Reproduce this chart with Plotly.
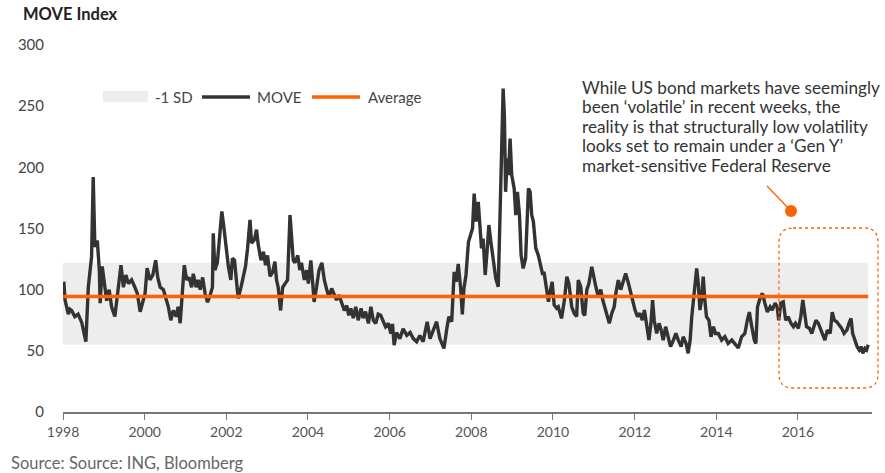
import plotly.graph_objects as go

# ---------------- data ----------------
YEARS = [
    1998.02, 1998.05, 1998.13, 1998.17, 1998.21, 1998.29, 1998.37, 1998.46, 1998.56, 1998.62,
    1998.70, 1998.74, 1998.78, 1998.84, 1998.89, 1998.91, 1998.96, 1999.01, 1999.07, 1999.13,
    1999.19, 1999.27, 1999.35, 1999.42, 1999.48, 1999.54, 1999.60, 1999.68, 1999.76, 1999.82,
    1999.89, 1999.95, 2000.01, 2000.06, 2000.13, 2000.20, 2000.27, 2000.32, 2000.38, 2000.46,
    2000.52, 2000.58, 2000.64, 2000.70, 2000.77, 2000.82, 2000.87, 2000.93, 2000.97, 2001.03,
    2001.09, 2001.15, 2001.19, 2001.26, 2001.31, 2001.36, 2001.42, 2001.48, 2001.54, 2001.60,
    2001.66, 2001.68, 2001.72, 2001.78, 2001.83, 2001.89, 2001.94, 2001.99,
    2002.05, 2002.11, 2002.15, 2002.20, 2002.25, 2002.29, 2002.36, 2002.42, 2002.47, 2002.52,
    2002.58, 2002.62, 2002.69, 2002.74, 2002.78, 2002.85, 2002.91, 2002.96, 2003.01, 2003.07,
    2003.13, 2003.19, 2003.23, 2003.27, 2003.33, 2003.38, 2003.44, 2003.50, 2003.56, 2003.60,
    2003.64, 2003.68, 2003.75, 2003.80, 2003.84, 2003.91, 2003.97, 2004.01, 2004.07, 2004.11,
    2004.15, 2004.21, 2004.27, 2004.34, 2004.40, 2004.46, 2004.51, 2004.58, 2004.64, 2004.70,
    2004.76, 2004.83, 2004.89, 2004.95, 2005.00, 2005.05, 2005.11, 2005.17, 2005.23, 2005.30,
    2005.35, 2005.41, 2005.48, 2005.54, 2005.60, 2005.66, 2005.72, 2005.78, 2005.84, 2005.90,
    2005.97, 2006.03, 2006.07, 2006.11,
    2006.17, 2006.25, 2006.33, 2006.42, 2006.50, 2006.58, 2006.66, 2006.74, 2006.82, 2006.92,
    2006.99, 2007.07, 2007.15, 2007.23, 2007.33, 2007.40, 2007.45, 2007.52, 2007.58, 2007.63,
    2007.68, 2007.74, 2007.78, 2007.82, 2007.87, 2007.93, 2007.99, 2008.03, 2008.07, 2008.12,
    2008.17, 2008.21, 2008.25, 2008.29, 2008.34, 2008.38, 2008.43, 2008.48, 2008.54, 2008.60,
    2008.66, 2008.70, 2008.74, 2008.78, 2008.81, 2008.84, 2008.88, 2008.91, 2008.95, 2008.99,
    2009.05, 2009.09, 2009.13, 2009.18, 2009.22, 2009.27, 2009.33, 2009.40, 2009.44, 2009.48,
    2009.52, 2009.58, 2009.64, 2009.70, 2009.75, 2009.78, 2009.83, 2009.89, 2009.93, 2009.98,
    2010.03, 2010.09,
    2010.13, 2010.21, 2010.28, 2010.34, 2010.39, 2010.46, 2010.52, 2010.58, 2010.62, 2010.68,
    2010.74, 2010.78, 2010.83, 2010.88, 2010.95, 2011.01, 2011.05, 2011.11, 2011.17, 2011.22,
    2011.27, 2011.33, 2011.38, 2011.44, 2011.50, 2011.54, 2011.60, 2011.66, 2011.72, 2011.78,
    2011.85, 2011.90, 2011.95, 2012.01, 2012.07, 2012.13, 2012.19, 2012.24, 2012.30, 2012.35,
    2012.40, 2012.44, 2012.48, 2012.54, 2012.60, 2012.65, 2012.70, 2012.76, 2012.82, 2012.88,
    2012.95, 2013.01, 2013.07, 2013.14, 2013.19, 2013.26, 2013.31, 2013.36, 2013.40, 2013.44,
    2013.48, 2013.52, 2013.56, 2013.60, 2013.64, 2013.68, 2013.72, 2013.76, 2013.82, 2013.87,
    2013.93, 2013.98, 2014.05, 2014.13, 2014.21, 2014.29, 2014.38, 2014.46, 2014.54, 2014.62,
    2014.70, 2014.76, 2014.81, 2014.87, 2014.93, 2014.97, 2015.01, 2015.07, 2015.13, 2015.19,
    2015.25, 2015.32, 2015.37, 2015.44, 2015.49, 2015.53, 2015.58, 2015.64, 2015.70, 2015.76,
    2015.83, 2015.89, 2015.94, 2016.01, 2016.07, 2016.12, 2016.16, 2016.21, 2016.28, 2016.34,
    2016.39, 2016.44, 2016.50, 2016.56, 2016.61, 2016.66, 2016.72, 2016.79, 2016.84, 2016.89,
    2016.95, 2017.01, 2017.07, 2017.13, 2017.20, 2017.25, 2017.30, 2017.34, 2017.39, 2017.45,
    2017.50, 2017.55, 2017.59, 2017.64, 2017.68, 2017.72,
]

MOVE = [
    106.5, 91.5, 80, 84, 83, 78, 80, 73, 57.5, 102,
    127, 192, 135, 140, 116, 89, 119, 108, 91, 100,
    86, 78, 102, 120, 102, 112, 105, 108, 102, 97,
    82, 91, 97, 117.6, 108, 112, 124, 110, 102, 100,
    94, 86, 75, 83, 78, 86, 72.6, 108, 120, 108,
    110, 102, 113, 102, 108, 100, 110, 97, 89.7, 95,
    102, 146, 116, 122, 144, 164, 151, 135,
    119, 108, 125.6, 124, 102, 93, 102, 110.6, 119, 133.7,
    157, 138, 141, 149, 137, 124, 131, 120, 128, 111,
    114, 123, 108, 102, 83, 102, 105, 108, 161, 141,
    124, 122, 128, 116, 122, 108, 116, 105, 124, 108,
    90, 102, 116, 122, 108, 100, 94, 101, 95.6, 91.5,
    95.6, 88.8, 83, 87, 79, 84.7, 76.7, 86, 75, 84.7,
    76.7, 82, 72.4, 86, 75, 72.4, 80, 79, 75, 69.7,
    72.4, 64, 72, 54.7,
    65, 60, 68, 62.6, 65, 60, 57.5, 62.6, 57.5, 73.8,
    60, 68, 73.8, 60, 52, 68, 77.9, 73.8, 114.6, 106.4,
    121, 101, 79.7, 101, 112, 139, 144.6, 150, 178.6, 155.6,
    171.8, 150, 133.7, 141.8, 112, 128.3, 152.8, 139, 122.6, 109,
    102.4, 166.4, 221, 264.4, 242.6, 180, 207.3, 193.6, 223.6, 193.6,
    182.8, 161, 180, 161, 128.3, 117.4, 125.5, 182.8, 180, 161,
    155.6, 133.7, 128.3, 117.4, 112, 114.6, 101, 90.2, 98.3, 106.4,
    87.5, 84.8,
    86, 76.5, 91.5, 110.6, 105, 86, 80.6, 78, 107.8, 102.4,
    80.6, 79, 100, 105, 118.7, 107.8, 102.4, 94.3, 100, 91.5,
    86, 78, 72.5, 80.6, 86, 97, 107.8, 100, 106.4, 113.3,
    105, 97, 91.5, 83.3, 78, 80.6, 75, 83.3, 69.7, 58.8,
    72.5, 91.5, 75, 64.2, 72.5, 67, 58.8, 69.7, 61.5, 53.4,
    58.8, 64.2, 58.8, 53.4, 61.5, 56, 48, 58.8, 78, 91.5,
    105, 117.4, 105, 83.3, 91.5, 110.6, 91.5, 78, 75, 61.5,
    69.7, 64.2, 64.2, 58.8, 61.5, 56, 58.8, 55, 52.3, 61.5,
    64.2, 75, 81.7, 69.7, 58.8, 56, 86, 92.8, 97, 89,
    81.7, 86, 83.3, 89, 86, 75, 89, 90, 75, 78,
    72.5, 69.7, 72.5, 68.4, 78, 91.5, 80.6, 69.7, 68.4, 64.2,
    69.7, 75, 72.5, 67, 64.2, 58.8, 67, 64.2, 81.7, 75,
    73.8, 71, 68.4, 64.2, 67, 72.5, 76.5, 64.2, 58.8, 53.4,
    50.7, 53.4, 48, 52, 50.7, 55,
]

AVERAGE = 94.5
SD_LOW = 55
SD_HIGH = 122
X_TICKS = [1998, 2000, 2002, 2004, 2006, 2008, 2010, 2012, 2014, 2016]
Y_TICKS = [0, 50, 100, 150, 200, 250, 300]

TITLE = "MOVE Index"
SOURCE = "Source: Source: ING, Bloomberg"
LEGEND_NAMES = ["-1 SD", "MOVE", "Average"]
NOTE_LINES = [
    "While US bond markets have seemingly",
    "been \u2018volatile\u2019 in recent weeks, the",
    "reality is that structurally low volatility",
    "looks set to remain under a \u2018Gen Y\u2019",
    "market-sensitive Federal Reserve",
]

# ---------------- styling / layout ----------------
W, H = 885, 473
L, R, T, B = 63, 13, 45, 61
PW, PH = W - L - R, H - T - B
ORANGE = "#FF6200"
DARK = "#333333"
BAND = "#ededed"
FONT = "Lato"


def px(xp):
    return (xp - L) / PW


def py(yp):
    return (H - B - yp) / PH


x0, x1 = YEARS[0] - 0.02, YEARS[-1]

fig = go.Figure()
fig.add_trace(go.Scatter(x=[x0, x1], y=[SD_LOW, SD_LOW], mode="lines",
                         line=dict(width=0, color=BAND), showlegend=False, hoverinfo="skip"))
fig.add_trace(go.Scatter(x=[x0, x1], y=[SD_HIGH, SD_HIGH], mode="lines",
                         line=dict(width=0, color=BAND), fill="tonexty",
                         fillcolor=BAND, name=LEGEND_NAMES[0], showlegend=False))
fig.add_trace(go.Scatter(x=YEARS, y=MOVE, mode="lines", name=LEGEND_NAMES[1],
                         line=dict(color=DARK, width=3.4), showlegend=False))
fig.add_trace(go.Scatter(x=[x0, x1], y=[AVERAGE, AVERAGE], mode="lines", name=LEGEND_NAMES[2],
                         line=dict(color=ORANGE, width=3.5), showlegend=False))

# annotation frame (rounded, dotted)
rx0, rx1, ry0, ry1, r = 779, 878, 228, 388, 14
path = (f"M {px(rx0 + r)} {py(ry0)} L {px(rx1 - r)} {py(ry0)} "
        f"Q {px(rx1)} {py(ry0)} {px(rx1)} {py(ry0 + r)} L {px(rx1)} {py(ry1 - r)} "
        f"Q {px(rx1)} {py(ry1)} {px(rx1 - r)} {py(ry1)} L {px(rx0 + r)} {py(ry1)} "
        f"Q {px(rx0)} {py(ry1)} {px(rx0)} {py(ry1 - r)} L {px(rx0)} {py(ry0 + r)} "
        f"Q {px(rx0)} {py(ry0)} {px(rx0 + r)} {py(ry0)} Z")
shapes = [
    dict(type="path", xref="paper", yref="paper", path=path,
         line=dict(color=ORANGE, width=1.3, dash="dot")),
    dict(type="line", xref="paper", yref="paper", x0=px(767), y0=py(186), x1=px(791), y1=py(211),
         line=dict(color=ORANGE, width=1.3)),
    dict(type="circle", xref="paper", yref="paper", x0=px(785), x1=px(797), y0=py(205), y1=py(217),
         fillcolor=ORANGE, line=dict(color=ORANGE, width=0)),
    # legend symbols
    dict(type="rect", xref="paper", yref="paper", x0=px(103), x1=px(148), y0=py(102), y1=py(91),
         fillcolor=BAND, line=dict(width=0)),
    dict(type="line", xref="paper", yref="paper", x0=px(202), x1=px(250), y0=py(97), y1=py(97),
         line=dict(color=DARK, width=3.4)),
    dict(type="line", xref="paper", yref="paper", x0=px(312), x1=px(360), y0=py(97), y1=py(97),
         line=dict(color=ORANGE, width=3.5)),
]

annotations = [
    dict(text=f"<b>{TITLE}</b>", xref="paper", yref="paper", x=px(21), y=py(14),
         xanchor="left", yanchor="middle", showarrow=False,
         font=dict(family=FONT, size=16.5, color="#222")),
    dict(text=SOURCE, xref="paper", yref="paper", x=px(9), y=py(463),
         xanchor="left", yanchor="middle", showarrow=False,
         font=dict(family=FONT, size=16.5, color="#666")),
]
for i, (name, lx) in enumerate(zip(LEGEND_NAMES, [153, 255, 366])):
    annotations.append(dict(text=name, xref="paper", yref="paper", x=px(lx), y=py(97),
                            xanchor="left", yanchor="middle", showarrow=False,
                            font=dict(family=FONT, size=15, color="#444")))
for i, line in enumerate(NOTE_LINES):
    annotations.append(dict(text=line, xref="paper", yref="paper", x=px(580), y=py(87 + 19.5 * i),
                            xanchor="left", yanchor="middle", showarrow=False,
                            font=dict(family=FONT, size=17.2, color="#333")))

fig.update_layout(
    width=W, height=H,
    margin=dict(l=L, r=R, t=T, b=B, pad=0),
    paper_bgcolor="white", plot_bgcolor="white",
    font=dict(family=FONT, size=14, color="#444"),
    showlegend=False,
    shapes=shapes,
    annotations=annotations,
    xaxis=dict(range=[1998, 1998 + PW / 40.83], tickvals=X_TICKS,
               ticktext=[str(v) for v in X_TICKS],
               showgrid=False, zeroline=False, showline=True, linecolor="#777", linewidth=2,
               ticks="outside", ticklen=6, tickwidth=1, tickcolor="#777",
               tickfont=dict(family=FONT, size=14, color="#555")),
    yaxis=dict(range=[0, 300], tickvals=Y_TICKS, showgrid=False, zeroline=False,
               showline=False, ticks="outside", ticklen=15, tickcolor="rgba(0,0,0,0)",
               tickfont=dict(family=FONT, size=15, color="#444")),
)

fig.write_html("out.html")
